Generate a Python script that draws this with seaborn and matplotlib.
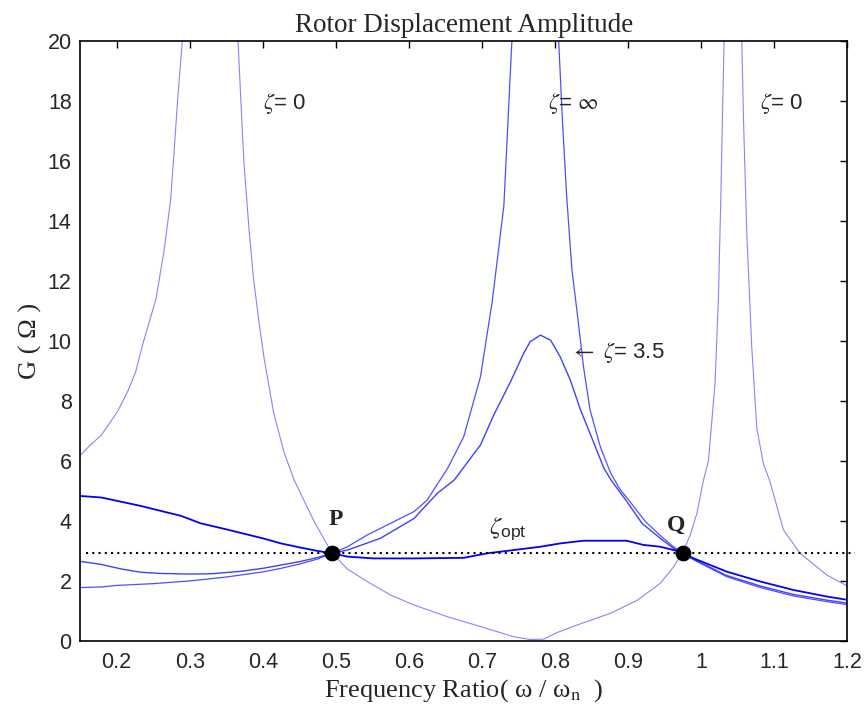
import matplotlib
matplotlib.use("Agg")
import matplotlib.pyplot as plt
import numpy as np
import pandas as pd
import seaborn as sns

# ---- data ----
# zeta = 0 (undamped absorber), values above 20 only carry the line off the top
freq_zeta0 = [0.151, 0.165, 0.179, 0.2015, 0.215, 0.226, 0.236, 0.254, 0.265, 0.274, 0.279,
              0.2835, 0.290, 0.294, 0.330, 0.362,
              0.3662, 0.3699, 0.3744, 0.3813, 0.3873, 0.395, 0.402, 0.415, 0.429, 0.443,
              0.470, 0.4884, 0.4952, 0.5157, 0.543, 0.575, 0.6068, 0.6524, 0.698, 0.7435,
              0.7663, 0.7845, 0.8028, 0.8346, 0.8756, 0.9121, 0.944, 0.9622, 0.9745, 0.985,
              0.9941, 1.0032, 1.010, 1.019, 1.0237, 1.0269, 1.0296, 1.0314, 1.034, 1.043,
              1.053, 1.0556, 1.0579, 1.0624, 1.0692, 1.0761, 1.0852, 1.0943, 1.1126, 1.1354,
              1.1718, 1.200]
amp_zeta0 = [6.2, 6.55, 6.85, 7.65, 8.3, 8.95, 9.9, 11.4, 13.0, 14.7, 16.4,
             18.0, 20.0, 25.0, 200.0, 25.0,
             20.0, 18.1, 15.9, 13.7, 12.1, 10.6, 9.4, 7.6, 6.3, 5.36,
             4.0, 3.2, 2.92, 2.40, 1.98, 1.53, 1.2, 0.81, 0.48, 0.14,
             0.05, 0.06, 0.28, 0.57, 0.92, 1.35, 1.92, 2.47, 2.94, 3.53,
             4.25, 5.36, 6.0, 8.6, 11.5, 14.8, 18.0, 20.0, 25.0, 200.0,
             25.0, 20.0, 17.4, 13.6, 9.8, 7.1, 5.9, 5.3, 3.70, 2.92,
             2.2, 1.83]

# zeta = infinity (locked absorber)
freq_inf = [0.151, 0.18, 0.20, 0.25, 0.30, 0.35, 0.40, 0.425, 0.45, 0.475, 0.495, 0.516,
            0.543, 0.575, 0.607, 0.625, 0.641, 0.653, 0.675, 0.698, 0.714, 0.730, 0.737,
            0.741, 0.745, 0.775, 0.802, 0.805, 0.810, 0.816, 0.823, 0.830, 0.839, 0.848,
            0.862, 0.876, 0.889, 0.901, 0.924, 0.946, 0.962, 0.975, 0.990, 1.035, 1.081,
            1.126, 1.172, 1.200]
amp_inf = [1.78, 1.80, 1.85, 1.91, 2.00, 2.13, 2.30, 2.42, 2.56, 2.73, 2.92, 3.14,
           3.53, 3.92, 4.31, 4.69, 5.30, 5.75, 6.8, 8.8, 11.3, 14.5, 18.0,
           20.0, 24.0, 200.0, 24.0, 20.0, 17.4, 14.8, 12.4, 11.0, 9.13, 7.69,
           6.47, 5.6, 5.05, 4.69, 3.97, 3.47, 3.14, 2.92, 2.70, 2.14, 1.78,
           1.50, 1.31, 1.21]

# zeta = 3.5
freq_35 = [0.151, 0.179, 0.206, 0.233, 0.26, 0.30, 0.33, 0.37, 0.40, 0.425, 0.45, 0.475,
           0.495, 0.516, 0.561, 0.607, 0.639, 0.662, 0.698, 0.716, 0.739, 0.757, 0.766,
           0.780, 0.794, 0.807, 0.821, 0.835, 0.848, 0.867, 0.877, 0.897, 0.919, 0.944,
           0.962, 0.975, 0.990, 1.035, 1.081, 1.126, 1.172, 1.200]
amp_35 = [2.65, 2.55, 2.40, 2.29, 2.25, 2.23, 2.24, 2.32, 2.42, 2.53, 2.64, 2.78,
          2.92, 3.03, 3.42, 4.08, 4.92, 5.36, 6.53, 7.52, 8.63, 9.58, 9.97,
          10.19, 10.02, 9.47, 8.69, 7.69, 6.91, 5.75, 5.35, 4.69, 3.92, 3.42,
          3.09, 2.92, 2.72, 2.18, 1.83, 1.55, 1.36, 1.26]

# zeta = optimum
freq_opt = [0.151, 0.179, 0.206, 0.233, 0.261, 0.288, 0.315, 0.35, 0.40, 0.425, 0.45, 0.475,
            0.495, 0.516, 0.552, 0.607, 0.675, 0.707, 0.744, 0.78, 0.807, 0.839, 0.898,
            0.921, 0.944, 0.967, 0.975, 0.990, 1.035, 1.081, 1.126, 1.172, 1.200]
amp_opt = [4.83, 4.78, 4.64, 4.50, 4.33, 4.17, 3.92, 3.72, 3.42, 3.25, 3.12, 3.00,
           2.92, 2.81, 2.75, 2.75, 2.77, 2.92, 3.03, 3.14, 3.25, 3.34, 3.34,
           3.20, 3.14, 3.00, 2.92, 2.75, 2.31, 1.98, 1.70, 1.48, 1.37]

# fixed points P, Q and the horizontal reference through them
fixed_names = ["P", "Q"]
fixed_x = [0.495, 0.975]
fixed_y = [2.92, 2.92]
ref_x = [0.158, 1.21]
ref_y = 2.92

curve_labels = ["zeta0", "inf", "3.5", "opt"]

df = pd.concat([
    pd.DataFrame({"freq": freq_zeta0, "G": amp_zeta0, "curve": "zeta0"}),
    pd.DataFrame({"freq": freq_inf, "G": amp_inf, "curve": "inf"}),
    pd.DataFrame({"freq": freq_35, "G": amp_35, "curve": "3.5"}),
    pd.DataFrame({"freq": freq_opt, "G": amp_opt, "curve": "opt"}),
], ignore_index=True)

# ---- style ----
sns.set_style("white")
plt.rcParams["font.family"] = ["Liberation Sans", "DejaVu Sans"]
plt.rcParams["mathtext.fontset"] = "stix"
plt.rcParams["xtick.direction"] = "in"
plt.rcParams["ytick.direction"] = "in"

styles = {
    "zeta0": dict(color="#8585ff", linewidth=0.8),
    "inf": dict(color="#4f4fff", linewidth=0.9),
    "3.5": dict(color="#4040ff", linewidth=1.0),
    "opt": dict(color="#0000ff", linewidth=1.3),
}

fig = plt.figure(figsize=(8.67, 7.21), dpi=100)
ax = fig.add_axes([0.0923, 0.111, 0.885, 0.8326])

for c in curve_labels:
    sub = df[df["curve"] == c]
    sns.lineplot(data=sub, x="freq", y="G", ax=ax, estimator=None, sort=False,
                 legend=False, **styles[c])

ax.plot(ref_x, [ref_y, ref_y], color="black", linestyle=(0, (1, 2)),
        linewidth=1.5, clip_on=False)
sns.scatterplot(x=fixed_x, y=fixed_y, ax=ax, color="black", s=110,
                edgecolor="black", zorder=5, legend=False)

# annotations
ax.text(fixed_x[0] + 0.005, 4.05, fixed_names[0], fontfamily="Liberation Serif",
        fontweight="bold", fontsize=17, ha="center", va="center")
ax.text(fixed_x[1] - 0.01, 3.85, fixed_names[1], fontfamily="Liberation Serif",
        fontweight="bold", fontsize=17, ha="center", va="center")
ax.text(0.40, 17.9, r"$\zeta$= 0", fontsize=16, va="center")
ax.text(0.79, 17.9, r"$\zeta$= $\infty$", fontsize=16, va="center")
ax.text(1.08, 17.9, r"$\zeta$= 0", fontsize=16, va="center")
ax.text(0.82, 9.6, r"$\leftarrow$ $\zeta$= 3.5", fontsize=16, va="center")
ax.text(0.709, 3.75, r"$\zeta_{\mathregular{opt}}$", fontsize=18, va="center")

ax.set_xlim(0.15, 1.2)
ax.set_ylim(0, 20)
xt = np.round(np.arange(0.2, 1.21, 0.1), 1)
ax.set_xticks(xt)
ax.set_xticklabels([("%g" % v) for v in xt])
ax.set_yticks(np.arange(0, 21, 2))
ax.tick_params(axis="both", which="both", top=True, right=True, length=5,
               width=1.0, labelsize=15.5, color="black")
ax.tick_params(axis="x", pad=8)
ax.tick_params(axis="y", pad=6)
for s in ax.spines.values():
    s.set_color("black")
    s.set_linewidth(1.2)

ax.set_title("Rotor Displacement Amplitude", fontfamily="Liberation Serif",
             fontsize=19.5, pad=6)
ax.set_xlabel("Frequency Ratio( ω / ω$_{\\mathrm{n}}$  )",
              fontfamily="Liberation Serif", fontsize=19, labelpad=3)
ax.set_ylabel("G ( Ω )", fontfamily="Liberation Serif", fontsize=19,
              labelpad=4)

fig.savefig("out.png", dpi=100)
plt.close(fig)
